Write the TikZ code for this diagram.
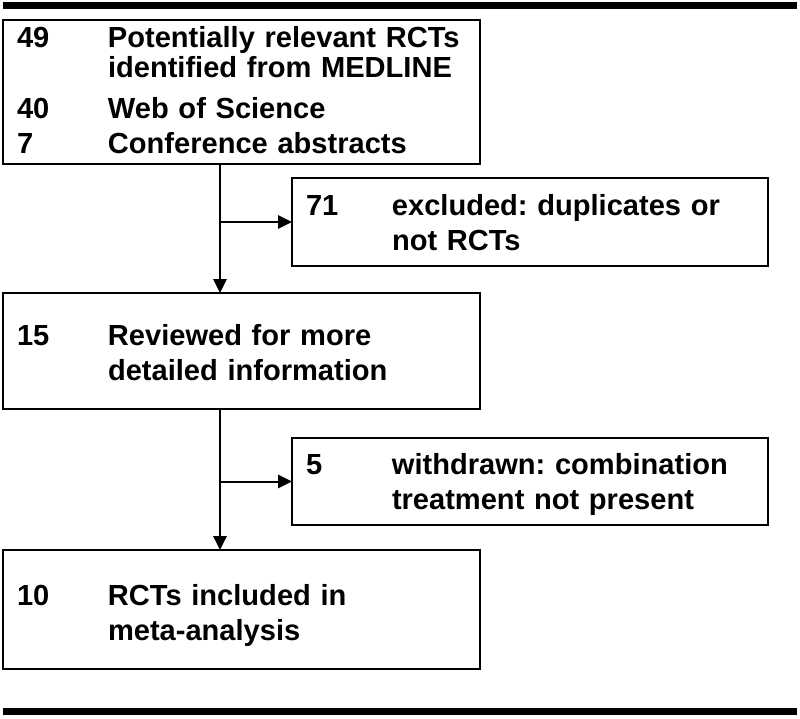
\documentclass[tikz,border=0pt]{standalone}
\usepackage{fontspec}
\setmainfont{Liberation Sans}
\usetikzlibrary{arrows.meta,positioning}
% number column + text column inside a box
\newcommand{\flowrows}[2]{\begin{tabular}[t]{@{}p{#1}@{}l@{}}#2\end{tabular}}
\frenchspacing

\begin{document}
\begin{tikzpicture}[x=0.75pt, y=-0.75pt, line width=1.5pt, line join=miter, >={Triangle[length=10.5pt,width=10pt]},
	font=\bfseries\fontsize{21.8}{26.25}\selectfont,
	flowbox/.style={draw, anchor=north west, outer sep=0pt, inner ysep=0pt, inner xsep=10.5pt, align=left},
	mainbox/.style={flowbox, text width=336.75pt},
	sidebox/.style={flowbox, text width=336pt}]
	\useasboundingbox (0,0) rectangle (800,718);
	% thick rules at top and bottom
	\fill (3,2) rectangle (797,9);
	\fill (3,708) rectangle (797,715);
	% boxes
	\node[mainbox, text height=20.25pt, text depth=87.75pt] (search) at (3,20)
	{\flowrows{68.25pt}{49 & Potentially relevant RCTs\\[-3.75pt] & identified from MEDLINE\\[4.5pt] 40 & Web of Science\\ 7 & Conference abstracts}};
	\node[sidebox, text height=27.75pt, text depth=38.25pt] (dupl) at (292,178)
	{\flowrows{64.5pt}{71 & excluded: duplicates or\\ & not RCTs}};
	\node[mainbox, text height=39pt, text depth=48pt] (review) at (3,293)
	{\flowrows{68.25pt}{15 & Reviewed for more\\ & detailed information}};
	\node[sidebox, text height=27pt, text depth=38.25pt] (withdr) at (292,438)
	{\flowrows{64.5pt}{5 & withdrawn: combination\\ & treatment not present}};
	\node[mainbox, text height=41.25pt, text depth=48pt] (incl) at (3,550)
	{\flowrows{68.25pt}{10 & RCTs included in\\ & meta-analysis}};
	% connectors
	\coordinate (trunk) at (220,0);
	\draw[->] (search.south -| trunk) -- (review.north -| trunk);
	\draw[->] (dupl.west -| trunk) -- (dupl.west);
	\draw[->] (review.south -| trunk) -- (incl.north -| trunk);
	\draw[->] (withdr.west -| trunk) -- (withdr.west);
\end{tikzpicture}
\end{document}
